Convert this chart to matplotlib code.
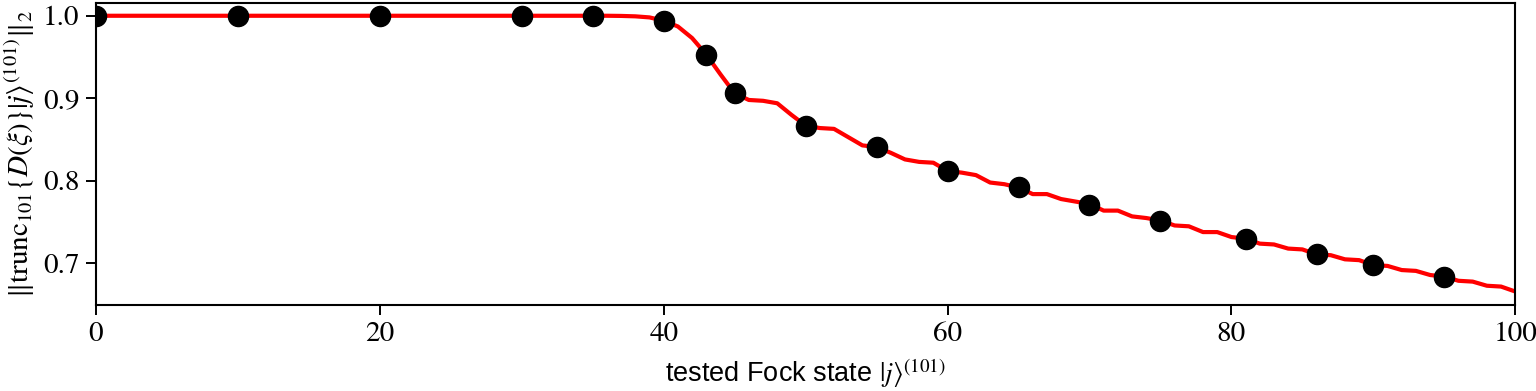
"""Norm of truncated displaced Fock states versus tested Fock state."""

import matplotlib

matplotlib.use("Agg")
import matplotlib.pyplot as plt
import numpy as np

# full curve, one value per Fock state j = 0..100
curve_j = np.arange(0, 101)
curve_norm = [1.0] * 37 + [
    0.9998, 0.9993, 0.998, 0.994, 0.987, 0.973, 0.953, 0.929, 0.906,
    0.898, 0.897, 0.894, 0.880, 0.867, 0.864, 0.863, 0.853, 0.843, 0.841,
    0.834, 0.826, 0.823, 0.822, 0.812, 0.810, 0.807, 0.798, 0.796, 0.792,
    0.784, 0.784, 0.778, 0.775, 0.772, 0.764, 0.764, 0.757, 0.755, 0.752,
    0.746, 0.745, 0.738, 0.738, 0.732, 0.730, 0.724, 0.723, 0.718, 0.717,
    0.711, 0.710, 0.705, 0.704, 0.698, 0.697, 0.692, 0.691, 0.686, 0.684,
    0.679, 0.678, 0.673, 0.672, 0.666,
]

# tested states (black dots)
tested_j = [0, 10, 20, 30, 35, 40, 43, 45, 50, 55, 60, 65, 70, 75, 81, 86, 90, 95]
tested_norm = [1.0, 1.0, 1.0, 1.0, 1.0, 0.994, 0.953, 0.906, 0.867, 0.841,
               0.812, 0.792, 0.771, 0.752, 0.730, 0.711, 0.698, 0.684]

plt.rcParams["mathtext.fontset"] = "stix"
plt.rcParams["font.size"] = 20

fig = plt.figure(figsize=(15.36, 3.91), dpi=100)
ax = fig.add_axes([0.0625, 0.22, 0.924, 0.772])

ax.plot(curve_j, curve_norm, color="red", linewidth=3.0, zorder=2)
ax.plot(tested_j, tested_norm, "o", color="black", markersize=14.5, zorder=3)

ax.set_xlim(0, 100)
ax.set_ylim(0.6497, 1.0153)
ax.set_xticks([0, 20, 40, 60, 80, 100])
ax.set_yticks([0.7, 0.8, 0.9, 1.0])
for lbl in ax.get_xticklabels() + ax.get_yticklabels():
    lbl.set_family("STIXGeneral")
    lbl.set_fontsize(21)
ax.tick_params(length=7, width=1.4, pad=5)
for spine in ax.spines.values():
    spine.set_linewidth(1.5)

ax.set_xlabel(r"tested Fock state $|j\rangle^{(101)}$", family="Liberation Sans", fontsize=19.5, labelpad=7)
ax.set_ylabel(r"$\|\mathrm{trunc}_{101}\{D(\xi)\}|j\rangle^{(101)}\|_2$", fontsize=21, labelpad=4)

fig.savefig("out.png", dpi=100)
plt.close(fig)
